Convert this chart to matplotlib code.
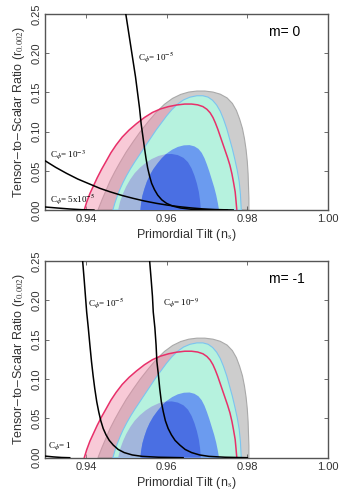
import numpy as np
import matplotlib
matplotlib.use("Agg")
import matplotlib.pyplot as plt
from matplotlib.patches import Polygon

plt.rcParams['font.family'] = ['Liberation Sans', 'DejaVu Sans']
plt.rcParams['mathtext.fontset'] = 'stix'

# outer (95%) gray contour
gray95_ns = [0.9430, 0.9440, 0.9450, 0.9460, 0.9472, 0.9485, 0.9500, 0.9517, 0.9535, 0.9555,
             0.9575, 0.9595, 0.9615, 0.9635, 0.9655, 0.9675, 0.9695, 0.9715, 0.9733, 0.9750,
             0.9763, 0.9773, 0.9781, 0.9788, 0.9793, 0.9797, 0.9800, 0.9802, 0.9803, 0.9804, 0.9804]
gray95_r = [0.000, 0.013, 0.025, 0.037, 0.049, 0.061, 0.074, 0.087, 0.100, 0.113,
            0.125, 0.135, 0.1425, 0.1475, 0.1505, 0.1518, 0.1518, 0.1505, 0.1478, 0.1430,
            0.1360, 0.1270, 0.1160, 0.1040, 0.0910, 0.0770, 0.0620, 0.0460, 0.0300, 0.0150, 0.000]

# red (pink filled) 95% contour
red95_ns = [0.9396, 0.9402, 0.9410, 0.9419, 0.9428, 0.9439, 0.9450, 0.9462, 0.9475, 0.9490,
            0.9507, 0.9525, 0.9545, 0.9565, 0.9585, 0.9605, 0.9625, 0.9645, 0.9662, 0.9677,
            0.9690, 0.9700, 0.9708, 0.9715, 0.9721, 0.9727, 0.9733, 0.9739, 0.9745, 0.9751,
            0.9757, 0.9762, 0.9766, 0.9770, 0.9772, 0.9774]
red95_r = [0.000, 0.010, 0.021, 0.031, 0.041, 0.052, 0.062, 0.073, 0.083, 0.093,
           0.102, 0.110, 0.118, 0.1245, 0.129, 0.132, 0.134, 0.1352, 0.1352, 0.1342,
           0.1320, 0.1285, 0.124, 0.118, 0.111, 0.103, 0.094, 0.085, 0.076, 0.067,
           0.057, 0.046, 0.035, 0.023, 0.012, 0.000]

# cyan 95% contour
cyan95_ns = [0.9467, 0.9472, 0.9478, 0.9485, 0.9492, 0.9501, 0.9511, 0.9522, 0.9535, 0.9548,
             0.9561, 0.9574, 0.9587, 0.9600, 0.9613, 0.9627, 0.9642, 0.9658, 0.9675, 0.9690,
             0.9703, 0.9714, 0.9724, 0.9733, 0.9741, 0.9749, 0.9756, 0.9763, 0.9769, 0.9775,
             0.9780, 0.9783, 0.9785]
cyan95_r = [0.000, 0.009, 0.018, 0.027, 0.035, 0.044, 0.053, 0.062, 0.072, 0.082,
            0.092, 0.102, 0.111, 0.120, 0.128, 0.135, 0.1405, 0.1440, 0.1458, 0.1458,
            0.1440, 0.1400, 0.1340, 0.1260, 0.1160, 0.1040, 0.0910, 0.0780, 0.0650, 0.0510,
            0.0360, 0.0200, 0.000]

# inner (68%) contours
gray68_ns = [0.9480, 0.9485, 0.9492, 0.9500, 0.9510, 0.9521, 0.9534, 0.9548, 0.9563, 0.9580,
             0.9597, 0.9613, 0.9628, 0.9642, 0.9653, 0.9662, 0.9669, 0.9675, 0.9680, 0.9683, 0.9685]
gray68_r = [0.000, 0.011, 0.021, 0.030, 0.039, 0.047, 0.054, 0.060, 0.065, 0.069,
            0.0712, 0.0715, 0.0700, 0.0665, 0.0610, 0.0530, 0.0440, 0.0340, 0.0230, 0.0120, 0.000]

blue68_ns = [0.9535, 0.9537, 0.9540, 0.9545, 0.9551, 0.9558, 0.9567, 0.9577, 0.9588, 0.9600,
             0.9614, 0.9628, 0.9643, 0.9657, 0.9669, 0.9679, 0.9687, 0.9694, 0.9700, 0.9706,
             0.9712, 0.9718, 0.9723, 0.9727, 0.9730]
blue68_r = [0.000, 0.009, 0.018, 0.027, 0.036, 0.044, 0.052, 0.059, 0.066, 0.072,
            0.077, 0.0805, 0.0825, 0.0828, 0.0812, 0.0780, 0.0730, 0.0660, 0.0580, 0.0490,
            0.0390, 0.0290, 0.0190, 0.0090, 0.000]

# C_phi model curves, m = 0
m0_a_ns = [0.9499, 0.9505, 0.9511, 0.9517, 0.9523, 0.9528, 0.9533, 0.9537, 0.9541, 0.9545,
           0.9549, 0.9553, 0.9558, 0.9563, 0.9570, 0.9578, 0.9588, 0.9600, 0.9615, 0.9635,
           0.9660, 0.9700, 0.9750]
m0_a_r = [0.25, 0.23, 0.21, 0.19, 0.17, 0.15, 0.13, 0.11, 0.095, 0.080,
          0.066, 0.054, 0.043, 0.034, 0.026, 0.019, 0.013, 0.0085, 0.005, 0.0025,
          0.0010, 0.0003, 0.0]
m0_b_ns = [0.9300, 0.9325, 0.9352, 0.9380, 0.9410, 0.9435, 0.9460, 0.9490, 0.9517, 0.9545,
           0.9575, 0.9600, 0.9630, 0.9660, 0.9690, 0.9720, 0.9765]
m0_b_r = [0.0625, 0.0545, 0.0468, 0.0395, 0.0330, 0.0276, 0.0232, 0.0185, 0.0149, 0.0115,
          0.0085, 0.0064, 0.0043, 0.0027, 0.0014, 0.0006, 0.0]
m0_c_ns = [0.9300, 0.9330, 0.9360, 0.9390, 0.9420]
m0_c_r = [0.0038, 0.0025, 0.0013, 0.0004, 0.0]

# C_phi model curves, m = -1
m1_a_ns = [0.9392, 0.9396, 0.9399, 0.9402, 0.9406, 0.9410, 0.9414, 0.9418, 0.9422, 0.9427,
           0.9432, 0.9437, 0.9443, 0.9450, 0.9458, 0.9468, 0.9480, 0.9495, 0.9515, 0.9540,
           0.9580, 0.9641]
m1_a_r = [0.25, 0.225, 0.205, 0.185, 0.165, 0.143, 0.122, 0.104, 0.088, 0.071,
          0.058, 0.047, 0.037, 0.029, 0.022, 0.016, 0.0105, 0.0065, 0.0035, 0.0017,
          0.0006, 0.0]
m1_b_ns = [0.9558, 0.9562, 0.9565, 0.9567, 0.9571, 0.9574, 0.9576, 0.9580, 0.9583, 0.9587,
           0.9592, 0.9597, 0.9604, 0.9612, 0.9621, 0.9633, 0.9646, 0.9662, 0.9682, 0.9705,
           0.9745, 0.9800]
m1_b_r = [0.25, 0.225, 0.205, 0.185, 0.165, 0.143, 0.122, 0.104, 0.088, 0.071,
          0.058, 0.047, 0.037, 0.029, 0.022, 0.016, 0.0105, 0.0065, 0.0035, 0.0017,
          0.0006, 0.0]
m1_c_ns = [0.9300, 0.9320, 0.9340, 0.9360]
m1_c_r = [0.0020, 0.0010, 0.0003, 0.0]

x_ticks = [0.94, 0.96, 0.98, 1.00]
y_ticks = [0.00, 0.05, 0.10, 0.15, 0.20, 0.25]

C_GRAY = '#cdcdcd'
C_GRAY_EDGE = '#a9a9a9'
C_PINK = '#f08aa8'
C_RED = '#e8306a'
C_MINT = '#b6f2de'
C_CYAN_EDGE = '#7cc4f0'
C_STEEL = '#a2b6dc'
C_CORN = '#6b9bef'
C_ROYAL = '#4a6fe3'


def closed(ns, r):
    return np.column_stack([ns, r])


def draw_panel(ax, curves, labels, mlabel):
    ax.add_patch(Polygon(closed(gray95_ns, gray95_r), closed=True,
                         facecolor=C_GRAY, edgecolor=C_GRAY_EDGE, lw=0.8, zorder=1))
    ax.add_patch(Polygon(closed(red95_ns, red95_r), closed=True,
                         facecolor=C_PINK, alpha=0.45, edgecolor='none', zorder=2))
    ax.add_patch(Polygon(closed(cyan95_ns, cyan95_r), closed=True,
                         facecolor=C_MINT, edgecolor=C_CYAN_EDGE, lw=0.8, zorder=3))
    g68 = Polygon(closed(gray68_ns, gray68_r), closed=True,
                  facecolor=C_STEEL, edgecolor='none', zorder=4)
    ax.add_patch(g68)
    ax.add_patch(Polygon(closed(blue68_ns, blue68_r), closed=True,
                         facecolor=C_CORN, edgecolor='none', zorder=5))
    inner = Polygon(closed(blue68_ns, blue68_r), closed=True,
                    facecolor=C_ROYAL, edgecolor='none', zorder=6)
    ax.add_patch(inner)
    inner.set_clip_path(g68)
    ax.plot(red95_ns, red95_r, color=C_RED, lw=1.1, zorder=7)

    for ns, r in curves:
        ax.plot(ns, r, color='black', lw=1.1, zorder=8)
    for x, y, s in labels:
        ax.text(x, y, s, fontsize=6.5, family='Liberation Serif', zorder=9)
    ax.text(0.9855, 0.222, mlabel, fontsize=10, zorder=9)

    ax.set_xlim(0.93, 1.00)
    ax.set_ylim(0.0, 0.25)
    ax.set_xticks(x_ticks)
    ax.set_yticks(y_ticks)
    ax.set_xticklabels(['%.2f' % v for v in x_ticks])
    ax.set_yticklabels(['%.2f' % v for v in y_ticks], rotation=90, va='center')
    ax.tick_params(direction='in', top=True, right=True, length=3, width=0.6,
                   labelsize=8, labelcolor='#333333', color='#555555', pad=3)
    for sp in ax.spines.values():
        sp.set_color('#555555')
        sp.set_linewidth(1.0)
    ax.set_xlabel(r'Primordial Tilt (n$_{\rm s}$)', fontsize=9, color='#333333', labelpad=2)
    ax.set_ylabel(r'Tensor$-$to$-$Scalar Ratio (r$_{0.002}$)', fontsize=9, color='#333333',
                  labelpad=3)


fig = plt.figure(figsize=(3.46, 4.91), dpi=100)
ax1 = fig.add_axes([0.1315, 0.5723, 0.8165, 0.399])
ax2 = fig.add_axes([0.1315, 0.0678, 0.8165, 0.401])

draw_panel(ax1,
           [(m0_a_ns, m0_a_r), (m0_b_ns, m0_b_r), (m0_c_ns, m0_c_r)],
           [(0.9528, 0.192, r'C$_{\phi}$= 10$^{-5}$'),
            (0.9310, 0.066, r'C$_{\phi}$= 10$^{-3}$'),
            (0.9310, 0.010, r'C$_{\phi}$= 5x10$^{-5}$')],
           'm= 0')
draw_panel(ax2,
           [(m1_a_ns, m1_a_r), (m1_b_ns, m1_b_r), (m1_c_ns, m1_c_r)],
           [(0.9405, 0.193, r'C$_{\phi}$= 10$^{-5}$'),
            (0.9590, 0.193, r'C$_{\phi}$= 10$^{-9}$'),
            (0.9306, 0.012, r'C$_{\phi}$= 1')],
           'm= -1')

fig.savefig('out.png', dpi=100, facecolor='white')
